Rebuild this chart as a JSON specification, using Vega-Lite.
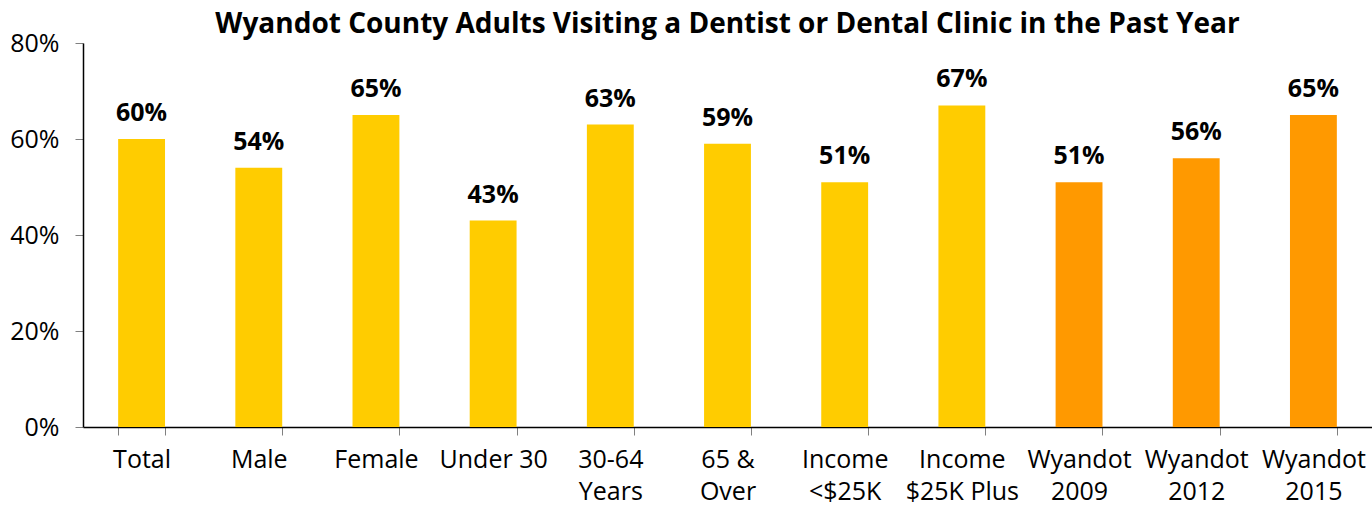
{
  "$schema": "https://vega.github.io/schema/vega-lite/v6.json",
  "autosize": {"type": "none"},
  "width": 1289,
  "height": 384,
  "padding": {"left": 83, "top": 43, "right": 0, "bottom": 81},
  "background": "white",
  "config": {"view": {"stroke": null}, "font": "Open Sans"},
  "title": {
    "text": "Wyandot County Adults Visiting a Dentist or Dental Clinic in the Past Year",
    "font": "Open Sans",
    "fontSize": 28,
    "fontWeight": "bold",
    "color": "black",
    "anchor": "middle",
    "offset": 8,
    "dy": 16
  },
  "data": {
    "values": [
      {"category": "Total", "value": 0.60, "group": "2015"},
      {"category": "Male", "value": 0.54, "group": "2015"},
      {"category": "Female", "value": 0.65, "group": "2015"},
      {"category": "Under 30", "value": 0.43, "group": "2015"},
      {"category": "30-64|Years", "value": 0.63, "group": "2015"},
      {"category": "65 &|Over", "value": 0.59, "group": "2015"},
      {"category": "Income|<$25K", "value": 0.51, "group": "2015"},
      {"category": "Income|$25K Plus", "value": 0.67, "group": "2015"},
      {"category": "Wyandot|2009", "value": 0.51, "group": "trend"},
      {"category": "Wyandot|2012", "value": 0.56, "group": "trend"},
      {"category": "Wyandot|2015", "value": 0.65, "group": "trend"}
    ]
  },
  "encoding": {
    "x": {
      "field": "category",
      "type": "nominal",
      "sort": null,
      "scale": {"paddingInner": 0.6, "paddingOuter": 0.3},
      "axis": {
        "title": null,
        "labelAngle": 0,
        "labelExpr": "isValid(datum.value) ? split(datum.value, '|') : ''",
        "labelFont": "Open Sans",
        "labelFontSize": 25,
        "labelColor": "black",
        "labelLineHeight": 32,
        "labelPadding": 12,
        "labelLimit": 200,
        "tickBand": "extent",
        "tickSize": 8,
        "tickColor": "#808080",
        "domainColor": "black",
        "domainWidth": 1.5
      }
    },
    "y": {
      "field": "value",
      "type": "quantitative",
      "scale": {"domain": [0, 0.8], "nice": false},
      "axis": {
        "title": null,
        "values": [0, 0.2, 0.4, 0.6, 0.8],
        "format": ".0%",
        "grid": false,
        "labelFont": "Open Sans",
        "labelFontSize": 25,
        "labelColor": "black",
        "labelPadding": 16,
        "tickSize": 8,
        "tickColor": "#808080",
        "domainColor": "black",
        "domainWidth": 1.5
      }
    }
  },
  "layer": [
    {
      "mark": {"type": "bar"},
      "encoding": {
        "color": {
          "field": "group",
          "type": "nominal",
          "scale": {"domain": ["2015", "trend"], "range": ["#FFCC00", "#FF9900"]},
          "legend": null
        }
      }
    },
    {
      "mark": {
        "type": "text",
        "baseline": "alphabetic",
        "dy": -18,
        "font": "Open Sans",
        "fontSize": 25,
        "fontWeight": "bold",
        "color": "black"
      },
      "encoding": {
        "text": {"field": "value", "type": "quantitative", "format": ".0%"}
      }
    }
  ]
}
